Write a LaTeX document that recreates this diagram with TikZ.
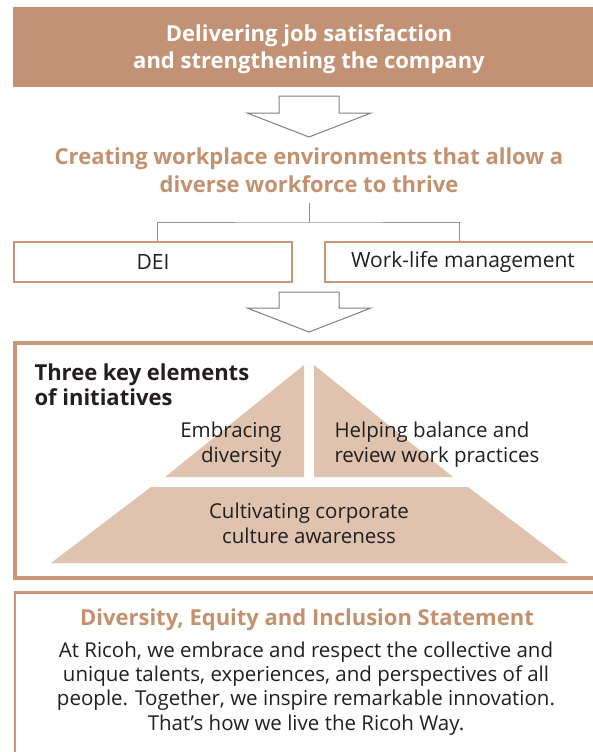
\documentclass[tikz,border=0pt]{standalone}
\usepackage{fontspec}
\setmainfont{Open Sans}
\definecolor{tanfill}{HTML}{C39275}
\definecolor{tantext}{HTML}{C4916F}
\definecolor{tanline}{HTML}{C8977A}
\definecolor{trifill}{HTML}{DFC3AF}
\definecolor{darktext}{HTML}{231F20}
\definecolor{arrowgray}{HTML}{808080}
\definecolor{conngray}{HTML}{909090}
\begin{document}
\begin{tikzpicture}[x=1pt,y=-1pt,
  blockarrow/.style={draw=arrowgray, fill=white, line width=1pt, line join=miter},
  conn/.style={draw=conngray, line width=1pt},
  smallbox/.style={draw=tanline, line width=2pt, fill=white, minimum width=278pt, minimum height=40pt, inner sep=0pt, text=darktext, font=\fontsize{21}{24}\selectfont},
  headtext/.style={anchor=base, align=center, font=\fontsize{22}{27.5}\selectfont\bfseries},
  bodytext/.style={anchor=base, text=darktext, font=\fontsize{20.5}{24.3}\selectfont},
  tri/.style={fill=trifill}
]
\useasboundingbox (0,0) rectangle (592,752);

% top box
\node[fill=tanfill, minimum width=597pt, minimum height=80pt, inner sep=0pt] (goalbox) at (311.5,47) {};
\node[headtext, text=white] (goal) at (309,69) {Delivering job satisfaction\\and strengthening the company};

% arrow 1
\draw[blockarrow] (279,96) -- (339,96) -- (339,113) -- (371,113) -- (309,137) -- (247,113) -- (279,113) -- cycle;

% environment title
\node[headtext, text=tantext] (env) at (309,192) {Creating workplace environments that allow a\\diverse workforce to thrive};
\coordinate (envb) at (309,203);
\coordinate (junc) at (309,222);

% DEI and Work-life boxes
\node[smallbox] (dei) at (153,262) {DEI};
\node[smallbox, minimum width=276pt] (wl) at (463,262) {Work-life management};

\draw[conn] (envb) -- (junc);
\draw[conn] ([xshift=4pt]dei.north) |- (junc) -| ([xshift=-4pt]wl.north);

% arrow 2
\draw[blockarrow] (279,292) -- (339,292) -- (339,308) -- (371,308) -- (309,332) -- (247,308) -- (279,308) -- cycle;

% elements box
\node[draw=tanline, line width=4pt, minimum width=595pt, minimum height=235pt, inner sep=0pt] (elements) at (312.5,460.5) {};
\node[anchor=base west, align=left, text=darktext, font=\fontsize{22}{25}\selectfont\bfseries] (three) at (31,405) {Three key elements\\of initiatives};

% pyramid
\fill[tri] (304,365) -- (304,477) -- (165,477) -- cycle;
\fill[tri] (314,365) -- (314,477) -- (453,477) -- cycle;
\fill[tri] (151,487) -- (468,487) -- (568,563) -- (51,563) -- cycle;

\node[bodytext, anchor=base east, align=right] (emb) at (285,462) {Embracing\\diversity};
\node[bodytext, anchor=base west, align=left] (help) at (331,462) {Helping balance and\\review work practices};
\node[bodytext, align=center] (cult) at (309,543) {Cultivating corporate\\culture awareness};

% statement box
\node[draw=tanline, line width=2.5pt, minimum width=595pt, minimum height=180pt, inner sep=0pt] (stmtbox) at (312.5,682.5) {};
\node[headtext, text=tantext] (stmttitle) at (307,625) {Diversity, Equity and Inclusion Statement};
\node[bodytext, align=center] (stmt) at (306,730) {At Ricoh, we embrace and respect the collective and\\unique talents, experiences, and perspectives of all\\people. Together, we inspire remarkable innovation.\\That’s how we live the Ricoh Way.};
\end{tikzpicture}
\end{document}
